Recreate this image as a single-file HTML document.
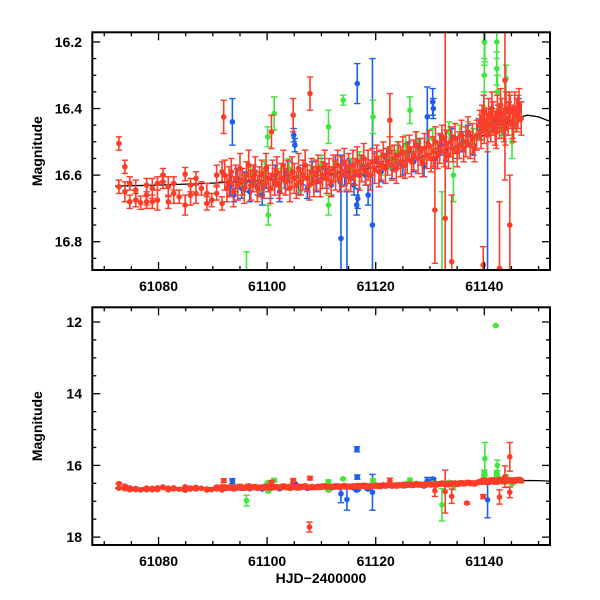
<!DOCTYPE html>
<html><head><meta charset="utf-8">
<style>
html,body{margin:0;padding:0;background:#fff;}
svg{display:block;}
text{font-family:"Liberation Sans",sans-serif;font-weight:bold;font-size:14px;fill:#000;}
</style></head>
<body>
<svg id="chart" width="600" height="600" viewBox="0 0 600 600" xmlns="http://www.w3.org/2000/svg">
<defs>
<clipPath id="clipTop"><rect x="92.3" y="32.3" width="457.7" height="237.7"/></clipPath>
<clipPath id="clipBot"><rect x="92.3" y="307.3" width="457.7" height="237.7"/></clipPath>
</defs>
</svg>
<script>
// ---- data ----
const tCurve=[61072,61080,61090,61100,61110,61115,61120,61125,61130,61135,61138,61141,61144,61146,61148,61150,61152];
const mCurve=[16.633,16.630,16.624,16.615,16.600,16.590,16.576,16.558,16.537,16.512,16.495,16.472,16.445,16.428,16.420,16.425,16.438];

const tRed=[61072.7,61072.7,61073.8,61073.8,61074.7,61074.7,61075.8,61075.8,61076.7,61077.8,61077.8,61077.8,61078.85,61078.85,61079.8,61079.8,61080.8,61080.8,61081.8,61081.8,61082.8,61082.8,61083.8,61084.9,61084.9,61085.9,61085.9,61086.9,61086.9,61087.9,61088.9,61088.9,61089.8,61090.7,61090.7,61091.7,61091.7,
61092.2,61092.6,61093.0,61093.4,61093.8,61094.2,61094.6,61095.0,61095.4,61095.8,61096.2,61096.6,61097.0,61097.4,61097.8,61098.2,61098.6,61099.0,61099.4,61099.8,61100.2,61100.6,61101.0,61101.4,61101.8,61102.2,61102.6,61103.0,61103.4,61103.8,61104.2,61104.6,61105.0,61105.4,61105.8,61106.2,61106.6,61107.0,61107.4,61107.8,61108.2,61108.6,61109.0,61109.4,61109.8,61110.2,61110.6,61111.0,61111.4,61111.8,61112.2,61112.6,61113.0,61113.4,61113.8,61114.2,61114.6,61115.0,61115.4,61115.8,61116.2,61116.6,61117.0,61117.4,61117.8,61118.2,61118.6,61119.0,61119.4,61119.8,61120.2,61120.6,61121.0,61121.4,61121.8,61122.2,61122.6,61123.0,61123.4,61123.8,61124.2,61124.6,61125.0,61125.4,61125.8,61126.2,61126.6,61127.0,61127.4,61127.8,61128.2,61128.6,61129.0,61129.4,61129.8,61130.2,61130.6,61131.0,61131.4,61131.8,61132.2,61132.6,61133.0,61133.4,61133.8,61134.2,61134.6,61135.0,61135.4,61135.8,61136.2,61136.6,61137.0,61137.4,61137.8,61138.2,61138.6,61139.2,61139.6,61140.0,61140.4,61140.8,61141.2,61141.6,61142.0,61142.4,61142.8,61143.2,61143.6,61144.0,61144.4,61144.8,61145.2,61145.6,61146.0,61146.4,61146.8,
61139.4,61139.9,61140.6,61141.4,61142.2,61143.0,61143.9,61144.6,61145.4,61146.2,
61092.0,61100.8,61104.8,61107.9,61107.8,61122.6,61130.9,61132.8,61134.0,61136.8,61139.8,61142.8,61143.8,61144.7,61144.7];
const magRed=[16.505,16.635,16.575,16.65,16.625,16.68,16.645,16.675,16.683,16.63,16.66,16.68,16.64,16.68,16.625,16.675,16.6,16.62,16.635,16.68,16.625,16.655,16.665,16.597,16.69,16.63,16.66,16.61,16.655,16.64,16.655,16.685,16.675,16.6,16.655,16.685,16.59,
16.60,16.64,16.62,16.59,16.65,16.61,16.63,16.58,16.62,16.64,16.60,16.57,16.63,16.61,16.59,16.64,16.62,16.60,16.63,16.58,16.61,16.64,16.60,16.62,16.59,16.63,16.61,16.57,16.62,16.60,16.64,16.59,16.61,16.63,16.58,16.62,16.60,16.57,16.61,16.63,16.59,16.62,16.60,16.58,16.62,16.60,16.57,16.61,16.59,16.62,16.58,16.60,16.57,16.61,16.59,16.56,16.60,16.58,16.61,16.57,16.59,16.56,16.60,16.58,16.55,16.59,16.57,16.60,16.56,16.58,16.55,16.59,16.57,16.54,16.58,16.56,16.53,16.57,16.55,16.58,16.54,16.56,16.53,16.57,16.55,16.52,16.56,16.54,16.51,16.55,16.53,16.56,16.52,16.54,16.51,16.55,16.53,16.50,16.54,16.52,16.49,16.53,16.51,16.54,16.50,16.52,16.49,16.53,16.51,16.48,16.52,16.50,16.47,16.51,16.49,16.52,16.48,16.45,16.43,16.46,16.44,16.42,16.45,16.43,16.46,16.41,16.44,16.42,16.45,16.40,16.43,16.41,16.44,16.40,16.42,16.39,16.43,
16.47,16.41,16.48,16.40,16.47,16.39,16.46,16.40,16.45,16.41,
16.425,16.47,16.42,16.355,17.72,16.435,16.705,16.73,16.86,17.05,16.87,16.88,16.315,16.75,15.76];
const errRed=[0.02,0.02,0.02,0.03,0.02,0.02,0.03,0.02,0.02,0.02,0.03,0.02,0.03,0.02,0.02,0.03,0.02,0.02,0.03,0.02,0.02,0.03,0.02,0.02,0.03,0.02,0.03,0.02,0.03,0.02,0.03,0.02,0.02,0.03,0.02,0.02,0.03,
0.045,0.04,0.045,0.04,0.045,0.04,0.045,0.045,0.04,0.045,0.04,0.045,0.045,0.04,0.045,0.04,0.045,0.045,0.04,0.045,0.04,0.045,0.045,0.04,0.045,0.04,0.045,0.045,0.04,0.045,0.04,0.045,0.045,0.04,0.045,0.04,0.045,0.045,0.04,0.045,0.04,0.045,0.045,0.04,0.045,0.04,0.045,0.045,0.04,0.045,0.04,0.045,0.045,0.04,0.045,0.04,0.045,0.045,0.04,0.045,0.04,0.045,0.045,0.04,0.045,0.04,0.045,0.045,0.04,0.045,0.04,0.045,0.045,0.04,0.045,0.04,0.045,0.045,0.04,0.045,0.04,0.045,0.045,0.04,0.045,0.04,0.045,0.045,0.04,0.045,0.04,0.045,0.045,0.04,0.045,0.04,0.045,0.045,0.04,0.045,0.04,0.045,0.045,0.04,0.045,0.04,0.045,0.045,0.04,0.045,0.04,0.045,0.045,0.04,0.045,0.04,0.045,0.045,0.04,0.045,0.04,0.05,0.05,0.05,0.05,0.05,0.05,0.05,0.05,0.05,0.05,0.05,0.05,0.05,0.05,0.05,0.05,0.05,0.05,0.05,0.05,
0.05,0.05,0.05,0.05,0.05,0.05,0.05,0.05,0.05,0.05,
0.14,0.08,0.16,0.6,0.2,0.03,0.055,0.2,0.3,0.15,0.4,0.05,0.04,0.4,0.25];

const tBlue=[61093.2,61093.6,61093.9,61094.5,61095.3,61096.0,61096.8,61097.5,61098.3,61099.1,61099.8,61100.6,61101.5,61102.3,61103.2,61104.0,61104.9,61105.1,61105.8,61106.6,61107.4,61108.3,61109.1,61110.0,61110.9,61111.8,61112.6,61113.4,61113.6,61114.7,61114.3,61115.2,61116.0,61116.6,61116.55,61116.5,61116.7,61117.3,61118.1,61118.6,61119.4,61120.2,61121.0,61122.0,61123.0,61124.0,61125.0,61126.0,61127.0,61128.0,61128.9,61129.5,61130.5,61130.6,61131.0,61132.0,61133.0,61134.0,61135.0,61136.0,61137.0,61138.0,61139.0,61140.6,61141.5,61142.5,61143.5,61144.5,61145.5,61146.3];
const magBlue=[16.63,16.44,16.66,16.61,16.64,16.62,16.65,16.60,16.63,16.66,16.61,16.64,16.60,16.65,16.61,16.59,16.48,16.51,16.63,16.60,16.64,16.59,16.62,16.58,16.61,16.63,16.57,16.62,16.79,16.95,16.60,16.58,16.63,16.325,15.55,16.69,16.67,16.57,16.60,16.66,16.75,16.56,16.59,16.55,16.58,16.54,16.57,16.53,16.56,16.52,16.575,16.425,16.38,16.40,16.55,16.51,16.53,16.49,16.52,16.50,16.48,16.51,16.46,16.96,16.44,16.42,16.45,16.41,16.43,16.40];
const errBlue=[0.03,0.07,0.02,0.03,0.03,0.03,0.03,0.03,0.03,0.03,0.03,0.03,0.03,0.03,0.03,0.03,0.02,0.02,0.03,0.03,0.03,0.03,0.03,0.03,0.03,0.03,0.03,0.03,0.25,0.3,0.03,0.03,0.03,0.06,0.07,0.03,0.03,0.03,0.03,0.03,0.5,0.03,0.03,0.03,0.03,0.03,0.03,0.03,0.03,0.03,0.03,0.09,0.04,0.03,0.03,0.03,0.03,0.03,0.03,0.03,0.03,0.03,0.03,0.5,0.03,0.03,0.03,0.03,0.03,0.03];

const tGreen=[61095.5,61096.2,61097.0,61098.5,61099.5,61100.2,61100.1,61101.3,61102.5,61104.0,61106.0,61108.0,61110.0,61111.3,61111.3,61112.5,61114.0,61115.5,61117.0,61119.5,61121.0,61122.5,61124.0,61125.5,61126.3,61127.5,61129.0,61130.5,61132.2,61133.5,61134.3,61135.5,61137.0,61138.0,61139.4,61140.0,61140.0,61140.0,61140.1,61141.0,61142.1,61142.3,61142.3,61142.4,61142.4,61143.2,61144.0,61145.1,61145.8];
const magGreen=[16.63,16.98,16.60,16.62,16.59,16.72,16.485,16.415,16.61,16.58,16.62,16.60,16.57,16.455,16.69,16.59,16.375,16.58,16.56,16.425,16.57,16.55,16.53,16.51,16.405,16.50,16.52,16.49,17.10,16.47,16.60,16.48,16.47,16.49,16.46,16.20,16.30,16.40,15.81,16.45,12.10,16.20,16.28,16.35,16.00,16.46,16.31,16.50,16.44];
const errGreen=[0.03,0.15,0.03,0.03,0.03,0.03,0.03,0.05,0.03,0.03,0.03,0.03,0.03,0.05,0.03,0.03,0.015,0.03,0.03,0.05,0.03,0.03,0.03,0.03,0.04,0.03,0.03,0.03,0.45,0.03,0.08,0.03,0.03,0.03,0.03,0.07,0.05,0.05,0.45,0.03,0.01,0.05,0.05,0.05,0.15,0.03,0.04,0.05,0.03];

const xTicksMajor=[61080,61100,61120,61140];
const yTopTicks=[16.2,16.4,16.6,16.8];
const yBotTicks=[12,14,16,18];

// ---- layout ----
const NS='http://www.w3.org/2000/svg';
const svg=document.getElementById('chart');
const L=92.3,R=550,T0=61067.8,T1=61152.1;
const xS=t=>L+(t-T0)/(T1-T0)*(R-L);
const panels=[
 {name:'top',top:32.3,bot:270,m0:16.171,m1:16.885,major:yTopTicks,minorStep:0.05,fmt:v=>v.toFixed(1),clip:'clipTop',labY:291},
 {name:'bottom',top:307.3,bot:545,m0:11.59,m1:18.22,major:yBotTicks,minorStep:0.5,fmt:v=>String(v),clip:'clipBot',labY:566}
];
function el(tag,attrs,parent){const e=document.createElementNS(NS,tag);for(const k in attrs)e.setAttribute(k,attrs[k]);(parent||svg).appendChild(e);return e;}

panels.forEach(p=>{
 const yS=m=>p.top+(m-p.m0)/(p.m1-p.m0)*(p.bot-p.top);
 const g=el('g',{});
 
 
 const plot=el('g',{'clip-path':'url(#'+p.clip+')'},g);
 
 
 let d='';
 tCurve.forEach((t,i)=>{d+=(i?'L':'M')+xS(t).toFixed(2)+','+yS(mCurve[i]).toFixed(2);});
 const cv=el('path',{d:d,fill:'none',stroke:'#000','stroke-width':1.3},plot);
 
 
 const series=[['blue',tBlue,magBlue,errBlue,'#1a5ff0'],['green',tGreen,magGreen,errGreen,'#3de83a'],['red',tRed,magRed,errRed,'#ff3c28']];
 series.forEach(([nm,ts,ms,es,col])=>{
  const sg=el('g',{stroke:col,fill:col},plot);
  
  
  ts.forEach((t,i)=>{
   const x=xS(t),y=yS(ms[i]),y1=yS(ms[i]-es[i]),y2=yS(ms[i]+es[i]);
   const pg=el('g',{},sg);
   
   
   el('line',{x1:x,x2:x,y1:y1,y2:y2,'stroke-width':1.6},pg);
   el('line',{x1:x-3.2,x2:x+3.2,y1:y1,y2:y1,'stroke-width':1.4},pg);
   el('line',{x1:x-3.2,x2:x+3.2,y1:y2,y2:y2,'stroke-width':1.4},pg);
   el('circle',{cx:x,cy:y,r:2.8,stroke:'none'},pg);
  });
 });
 const fr=el('rect',{x:L,y:p.top,width:R-L,height:p.bot-p.top,fill:'none',stroke:'#000','stroke-width':2},g);
 
 
 const ax=el('g',{stroke:'#000','stroke-width':1.3},g);
 
 
 for(let t=61070;t<=61150;t+=5){
  const x=xS(t),len=(t%20===0)?8:4;
  el('line',{x1:x,x2:x,y1:p.bot,y2:p.bot-len},ax);
  el('line',{x1:x,x2:x,y1:p.top,y2:p.top+len},ax);
 }
 xTicksMajor.forEach(t=>{
  const tx=el('text',{x:xS(t),y:p.labY,'text-anchor':'middle',stroke:'none'},g);
  tx.textContent=String(t);
  
  
 });
 const ay=el('g',{stroke:'#000','stroke-width':1.3},g);
 
 
 const start=Math.ceil(p.m0/p.minorStep-1e-6)*p.minorStep;
 for(let m=start;m<=p.m1+1e-9;m+=p.minorStep){
  const isMaj=p.major.some(v=>Math.abs(v-m)<1e-6);
  const y=yS(m),len=isMaj?8:4;
  el('line',{x1:L,x2:L+len,y1:y,y2:y},ay);
  el('line',{x1:R,x2:R-len,y1:y,y2:y},ay);
 }
 p.major.forEach(v=>{
  const tx=el('text',{x:82,y:yS(v)+5,'text-anchor':'end'},g);
  tx.textContent=p.fmt(v);
  
  
 });
 const yl=el('text',{x:0,y:0,'text-anchor':'middle',transform:'translate(42,'+((p.top+p.bot)/2)+') rotate(-90)'},g);
 yl.textContent='Magnitude';
 
 
});
const xl=el('text',{x:321,y:583,'text-anchor':'middle'});
xl.textContent='HJD\u22122400000';


</script>
</body></html>
